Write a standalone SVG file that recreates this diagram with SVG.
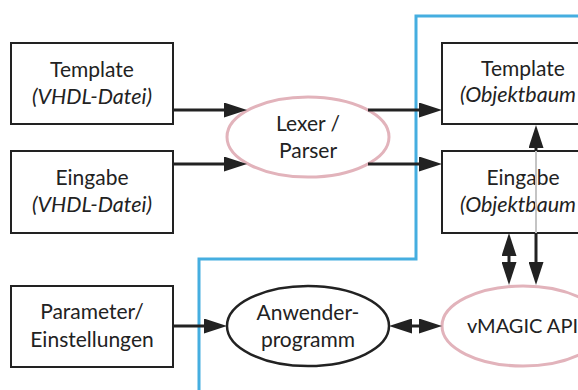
<svg xmlns="http://www.w3.org/2000/svg" width="578" height="390" viewBox="0 0 578 390">
<defs>
<style>
.box{fill:#fff;stroke:#222;stroke-width:2}
.pink{fill:#fff;stroke:#e2b3bb;stroke-width:3}
.blk{fill:#fff;stroke:#222;stroke-width:2.5}
text{font-family:Lato,"Open Sans","Liberation Sans",sans-serif;font-size:21px;fill:#222;text-anchor:middle}
.it{font-style:italic;font-size:21.5px}
.con{fill:none;stroke:#222;stroke-width:3}
</style>
<marker id="ah" viewBox="0 0 23 15" refX="13" refY="7.5" markerWidth="23" markerHeight="15" markerUnits="userSpaceOnUse" orient="auto-start-reverse">
<path d="M0,0 L23,7.5 L0,15 z" fill="#222"/>
</marker>
</defs>
<rect width="578" height="390" fill="#fff"/>
<path id="boundary" d="M578,16 H416 V259 H199 V390" fill="none" stroke="#45aee0" stroke-width="3"/>
<g id="template-vhdl">
<rect class="box" x="11" y="43" width="162" height="81"/>
<text x="92" y="77">Template</text>
<text class="it" x="92" y="104">(VHDL-Datei)</text>
</g>
<g id="eingabe-vhdl">
<rect class="box" x="11" y="151" width="162" height="82"/>
<text x="92" y="185">Eingabe</text>
<text class="it" x="92" y="212">(VHDL-Datei)</text>
</g>
<g id="parameter">
<rect class="box" x="11" y="286" width="162" height="81"/>
<text x="92" y="319">Parameter/</text>
<text x="92" y="347">Einstellungen</text>
</g>
<g id="lexer">
<ellipse class="pink" cx="308" cy="137" rx="81" ry="40"/>
<text x="308" y="131">Lexer /</text>
<text x="308" y="158">Parser</text>
</g>
<g id="anwender">
<ellipse class="blk" cx="308" cy="326" rx="81" ry="40"/>
<text x="308" y="320">Anwender-</text>
<text x="308" y="347">programm</text>
</g>
<g id="template-obj">
<rect class="box" x="442" y="43" width="162" height="81"/>
<text x="523" y="76">Template</text>
<text class="it" x="460" y="102" style="text-anchor:start">(Objektbaum</text>
</g>
<g id="eingabe-obj">
<rect class="box" x="442" y="151" width="162" height="82"/>
<text x="523" y="185">Eingabe</text>
<text class="it" x="460" y="212" style="text-anchor:start">(Objektbaum</text>
</g>
<g id="vmagic">
<ellipse class="pink" cx="523" cy="326" rx="81" ry="40"/>
<text x="467" y="333" style="text-anchor:start;font-size:20px">vMAGIC API</text>
</g>
<g id="connectors">
<path class="con" d="M173,110 H237" marker-end="url(#ah)"/>
<path class="con" d="M173,164 H237" marker-end="url(#ah)"/>
<path class="con" d="M368,110 H432" marker-end="url(#ah)"/>
<path class="con" d="M368,164 H432" marker-end="url(#ah)"/>
<path class="con" d="M173,326 H217" marker-end="url(#ah)"/>
<path class="con" d="M399,326 H432" marker-start="url(#ah)" marker-end="url(#ah)"/>
<path class="con" d="M509,243 V275" marker-start="url(#ah)" marker-end="url(#ah)"/>
<path d="M536,151 V233" fill="none" stroke="#c4c4c4" stroke-width="2"/>
<path class="con" d="M536,233 V275" marker-end="url(#ah)"/>
<path class="con" d="M536,151 V135" marker-end="url(#ah)"/>
</g>
</svg>
